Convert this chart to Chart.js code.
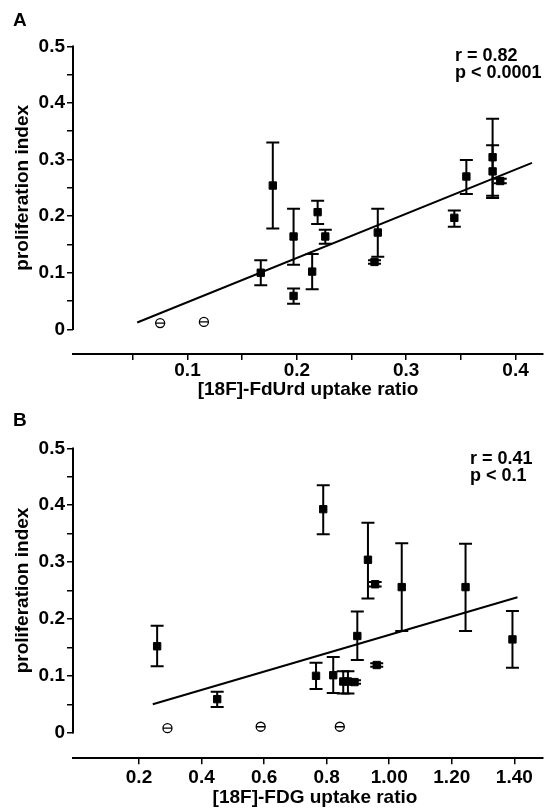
<!DOCTYPE html>
<html>
<head>
<meta charset="utf-8">
<script src="https://cdn.jsdelivr.net/npm/chart.js@4/dist/chart.umd.min.js"></script>
<style>
  html, body { margin: 0; padding: 0; background: #fff; }
  .panel { position: absolute; left: 0; width: 549px; height: 404px; }
  #panelA { top: 0; }
  #panelB { top: 404px; }
</style>
</head>
<body>
<div class="panel" id="panelA"><canvas id="chartA" width="549" height="404"></canvas></div>
<div class="panel" id="panelB"><canvas id="chartB" width="549" height="404"></canvas></div>
<script>
// === Panel A: [18F]-FdUrd ===
const fdurdX    = [0.167, 0.178, 0.197, 0.197, 0.214, 0.219, 0.226, 0.271, 0.274, 0.344, 0.355, 0.379, 0.379, 0.386];
const fdurdY    = [0.100, 0.254, 0.164, 0.059, 0.102, 0.207, 0.164, 0.119, 0.171, 0.197, 0.270, 0.304, 0.279, 0.262];
const fdurdHigh = [0.122, 0.330, 0.213, 0.072, 0.133, 0.227, 0.176, 0.122, 0.213, 0.210, 0.299, 0.372, 0.325, 0.266];
const fdurdLow  = [0.078, 0.178, 0.114, 0.045, 0.071, 0.186, 0.151, 0.116, 0.128, 0.181, 0.239, 0.236, 0.232, 0.258];
const fdurdZeroX = [0.075, 0.115];
const fdurdZeroY = [0.011, 0.013];
const fdurdFitX = [0.054, 0.415];
const fdurdFitY = [0.012, 0.294];

// === Panel B: [18F]-FDG ===
const fdgX    = [0.258, 0.450, 0.766, 0.789, 0.821, 0.853, 0.868, 0.889, 0.898, 0.932, 0.955, 0.960, 1.040, 1.244, 1.394];
const fdgY    = [0.152, 0.059, 0.100, 0.393, 0.101, 0.090, 0.090, 0.089, 0.170, 0.304, 0.261, 0.119, 0.256, 0.256, 0.164];
const fdgHigh = [0.188, 0.072, 0.123, 0.435, 0.133, 0.108, 0.108, 0.092, 0.213, 0.369, 0.265, 0.122, 0.333, 0.332, 0.214];
const fdgLow  = [0.117, 0.045, 0.077, 0.349, 0.070, 0.069, 0.069, 0.086, 0.128, 0.236, 0.257, 0.116, 0.179, 0.179, 0.114];
const fdgZeroX = [0.291, 0.589, 0.842];
const fdgZeroY = [0.008, 0.0105, 0.0105];
const fdgFitX = [0.244, 1.41];
const fdgFitY = [0.050, 0.238];

// === Ticks ===
const yTicks = [0, 0.05, 0.1, 0.15, 0.2, 0.25, 0.3, 0.35, 0.4, 0.45, 0.5];
const yLabels = ['0', '', '0.1', '', '0.2', '', '0.3', '', '0.4', '', '0.5'];
const xTicksA = [0.05, 0.1, 0.15, 0.2, 0.25, 0.3, 0.35, 0.4];
const xLabelsA = ['', '0.1', '', '0.2', '', '0.3', '', '0.4'];
const xTicksB = [0.2, 0.4, 0.6, 0.8, 1.0, 1.2, 1.4];
const xLabelsB = ['0.2', '0.4', '0.6', '0.8', '1.00', '1.20', '1.40'];

const FONT = '"Liberation Sans", Arial, Helvetica, sans-serif';

function toPoints(xs, ys) {
  return xs.map((x, i) => ({ x: x, y: ys[i] }));
}

function buildChart(id, p) {
  const errorBars = {
    id: 'errorBars',
    beforeDatasetsDraw(chart) {
      const { ctx, scales: { x, y } } = chart;
      ctx.save();
      ctx.strokeStyle = '#000';
      ctx.lineWidth = 2;
      p.x.forEach((xv, i) => {
        const px = x.getPixelForValue(xv);
        const top = y.getPixelForValue(p.high[i]);
        const bot = y.getPixelForValue(p.low[i]);
        ctx.beginPath();
        ctx.moveTo(px, top); ctx.lineTo(px, bot);
        ctx.moveTo(px - 6.5, top); ctx.lineTo(px + 6.5, top);
        ctx.moveTo(px - 6.5, bot); ctx.lineTo(px + 6.5, bot);
        ctx.stroke();
      });
      ctx.restore();
    }
  };

  const decorations = {
    id: 'decorations',
    afterDraw(chart) {
      const { ctx, chartArea, scales: { y } } = chart;
      const y0 = y.getPixelForValue(0);
      const y5 = y.getPixelForValue(0.5);
      ctx.save();
      // y axis only runs from 0 to 0.5, x axis sits lower
      ctx.strokeStyle = '#000';
      ctx.lineWidth = 2;
      ctx.beginPath();
      ctx.moveTo(chartArea.left, y0 + 0.75);
      ctx.lineTo(chartArea.left, y5 - 0.75);
      ctx.stroke();

      ctx.fillStyle = '#000';
      ctx.textAlign = 'left';
      ctx.textBaseline = 'alphabetic';
      ctx.font = 'bold 19px ' + FONT;
      ctx.fillText(p.letter, 13, p.letterY);

      ctx.font = 'bold 18px ' + FONT;
      ctx.fillText(p.stats[0], p.statsX, p.statsY);
      ctx.fillText(p.stats[1], p.statsX, p.statsY + 17);

      ctx.font = 'bold 19px ' + FONT;
      ctx.textAlign = 'center';
      ctx.fillText(p.xTitle, p.xTitleX, p.xTitleY);

      ctx.translate(23, (y0 + y5) / 2);
      ctx.rotate(-Math.PI / 2);
      ctx.textBaseline = 'middle';
      ctx.fillText('proliferation index', 0, 0);
      ctx.restore();
    }
  };

  const tickFont = { family: FONT, size: 19, weight: 'bold', lineHeight: 1 };

  // datasets are painted last-to-first, so the bar through the circle comes first in the list
  return new Chart(document.getElementById(id), {
    type: 'scatter',
    data: {
      datasets: [
        {
          data: toPoints(p.fitX, p.fitY),
          showLine: true,
          borderColor: '#000',
          borderWidth: 2,
          pointRadius: 0
        },
        {
          data: toPoints(p.x, p.y),
          pointStyle: 'rect',
          pointRadius: 5.2,
          backgroundColor: '#000',
          borderColor: '#000',
          borderWidth: 1
        },
        {
          data: toPoints(p.zeroX, p.zeroY),
          pointStyle: 'line',
          pointRadius: 4.5,
          borderColor: '#000',
          borderWidth: 1.3
        },
        {
          data: toPoints(p.zeroX, p.zeroY),
          pointStyle: 'circle',
          pointRadius: 4.5,
          backgroundColor: '#fff',
          borderColor: '#000',
          borderWidth: 1.3
        }
      ]
    },
    options: {
      responsive: false,
      animation: false,
      events: [],
      layout: { padding: { top: p.top, right: 0, bottom: 0, left: 0 } },
      plugins: { legend: { display: false }, tooltip: { enabled: false } },
      scales: {
        x: {
          type: 'linear',
          min: p.xMin,
          max: p.xMax,
          afterFit(s) { s.height = p.xAxisHeight; },
          afterBuildTicks(s) { s.ticks = p.xTicks.map(v => ({ value: v })); },
          border: { display: true, color: '#000', width: 2 },
          grid: { display: true, drawOnChartArea: false, drawTicks: true, tickLength: 6, color: '#000', lineWidth: 1.5 },
          ticks: {
            padding: p.xPad, color: '#000', font: tickFont,
            maxRotation: 0, autoSkip: false,
            callback: (v, i) => p.xLabels[i]
          }
        },
        y: {
          type: 'linear',
          min: p.yMin,
          max: 0.5,
          afterFit(s) { s.width = 73; },
          afterBuildTicks(s) { s.ticks = yTicks.map(v => ({ value: v })); },
          border: { display: false },
          grid: { display: true, drawOnChartArea: false, drawTicks: true, tickLength: 6, color: '#000', lineWidth: 1.5 },
          ticks: {
            padding: 2, color: '#000', font: tickFont, autoSkip: false,
            callback: (v, i) => yLabels[i]
          }
        }
      }
    },
    plugins: [errorBars, decorations]
  });
}

buildChart('chartA', {
  x: fdurdX, y: fdurdY, high: fdurdHigh, low: fdurdLow,
  zeroX: fdurdZeroX, zeroY: fdurdZeroY, fitX: fdurdFitX, fitY: fdurdFitY,
  xMin: -0.0047, xMax: 0.4249, yMin: -0.0436,
  xTicks: xTicksA, xLabels: xLabelsA,
  top: 46.3, xAxisHeight: 50, xPad: 1,
  letter: 'A', letterY: 26,
  stats: ['r = 0.82', 'p < 0.0001'], statsX: 455, statsY: 61,
  xTitle: '[18F]-FdUrd uptake ratio', xTitleX: 308, xTitleY: 395
});

buildChart('chartB', {
  x: fdgX, y: fdgY, high: fdgHigh, low: fdgLow,
  zeroX: fdgZeroX, zeroY: fdgZeroY, fitX: fdgFitX, fitY: fdgFitY,
  xMin: -0.011, xMax: 1.491, yMin: -0.045,
  xTicks: xTicksB, xLabels: xLabelsB,
  top: 44.3, xAxisHeight: 49.7, xPad: 4,
  letter: 'B', letterY: 22,
  stats: ['r = 0.41', 'p < 0.1'], statsX: 470, statsY: 60,
  xTitle: '[18F]-FDG uptake ratio', xTitleX: 315, xTitleY: 398.5
});
</script>
</body>
</html>
